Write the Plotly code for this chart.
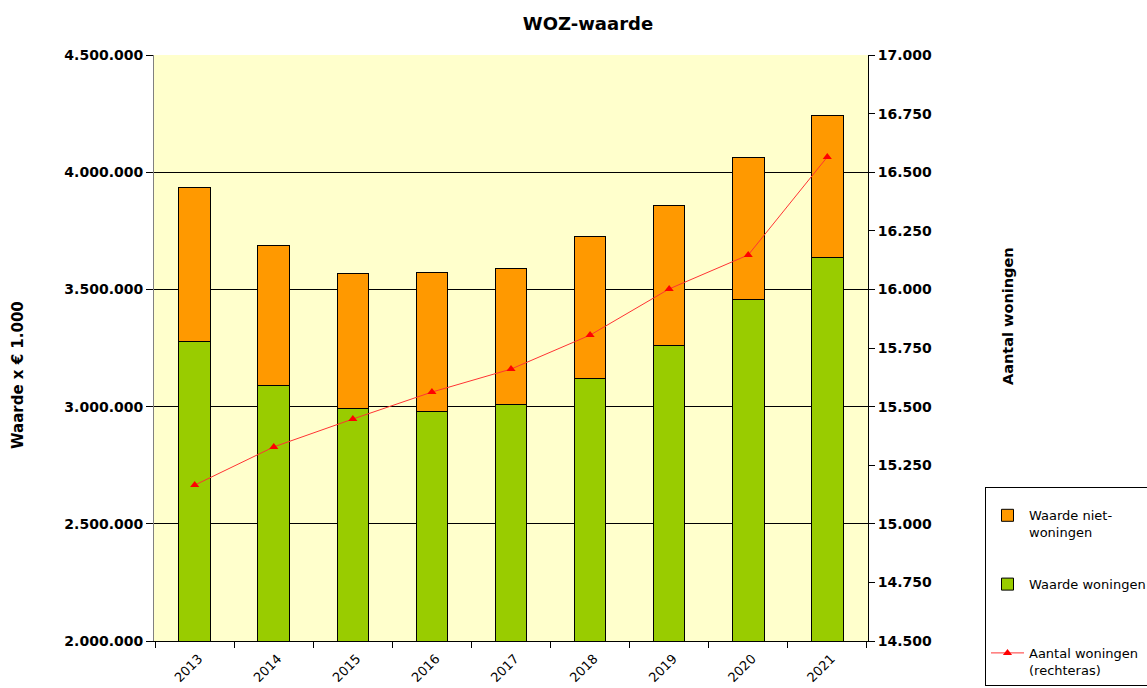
import plotly.graph_objects as go

years = ["2013", "2014", "2015", "2016", "2017", "2018", "2019", "2020", "2021"]
waarde_woningen = [3276000, 3092000, 2994000, 2981000, 3007000, 3122000, 3259000, 3455000, 3638000]
waarde_niet_woningen = [657000, 597000, 572000, 589000, 584000, 602000, 597000, 606000, 606000]
aantal_woningen = [15165, 15328, 15447, 15562, 15660, 15805, 16002, 16147, 16565]

FONT = "DejaVu Sans"

fig = go.Figure()
fig.add_trace(go.Bar(
    x=years, y=waarde_woningen, name="Waarde woningen<br> ",
    marker=dict(color="#99CC00", line=dict(color="#000000", width=1)),
    legendgroup="b", legendrank=2,
))
fig.add_trace(go.Bar(
    x=years, y=waarde_niet_woningen, name="Waarde niet-<br>woningen",
    marker=dict(color="#FF9900", line=dict(color="#000000", width=1)),
    legendgroup="a", legendrank=1,
))
fig.add_trace(go.Scatter(
    x=years, y=aantal_woningen, name="Aantal woningen<br>(rechteras)",
    yaxis="y2", mode="lines+markers",
    line=dict(color="#FF3333", width=1),
    marker=dict(symbol="triangle-up", size=8, color="#FF0000"),
    legendgroup="c", legendrank=3,
))

fig.update_layout(
    template="none",
    width=1147, height=688,
    barmode="stack", bargap=0.6,
    separators=",.",
    paper_bgcolor="#FFFFFF", plot_bgcolor="#FFFFCC",
    margin=dict(l=154, r=279, t=55, b=47, autoexpand=False),
    font=dict(family=FONT, size=13, color="#000000"),
    title=dict(text="<b>WOZ-waarde</b>", x=(588 / 1147), xanchor="center", xref="container",
               y=1 - 24 / 688, yanchor="middle", yref="container",
               font=dict(size=18, family=FONT)),
    xaxis=dict(
        type="category", showgrid=False, showline=True, linecolor="#000000", linewidth=1,
        ticks="outside", tickson="boundaries", ticklen=6, tickcolor="#000000",
        tickangle=-45, tickfont=dict(size=13, family=FONT), mirror=False, automargin=False,
        ticklabelstandoff=4, ticklabelshift=4,
    ),
    yaxis=dict(
        range=[2000000, 4500000], dtick=500000, tickformat=",d",
        showgrid=True, gridcolor="#000000", gridwidth=1,
        showline=True, linecolor="#808080", linewidth=1,
        ticks="outside", ticklen=7, tickcolor="#000000",
        tickfont=dict(size=14, family=FONT, weight="bold"), zeroline=False, automargin=False,
    ),
    yaxis2=dict(
        range=[14500, 17000], dtick=250, tickformat=",d", overlaying="y", side="right",
        showgrid=False, showline=True, linecolor="#000000", linewidth=1,
        ticks="outside", ticklen=6, tickcolor="#000000",
        tickfont=dict(size=14, family=FONT, weight="bold"), zeroline=False, automargin=False,
    ),
    legend=dict(
        x=985 / 1147, xanchor="left", xref="container",
        y=1 - 487 / 688, yanchor="top", yref="container",
        bordercolor="#000000", borderwidth=1, bgcolor="#FFFFFF",
        font=dict(size=13, family=FONT), traceorder="grouped", tracegroupgap=32,
        valign="top", itemwidth=33,
        title=dict(text=" ", font=dict(size=9.5, family=FONT)),
    ),
    annotations=[
        dict(text="<b>Waarde x € 1.000</b>", x=(18 - 154) / 714, y=(641 - 375) / 586,
             xref="paper", yref="paper", textangle=-90, showarrow=False,
             font=dict(size=15, family=FONT), xanchor="center", yanchor="middle"),
        dict(text="<b>Aantal woningen</b>", x=(1008 - 154) / 714, y=(641 - 316) / 586,
             xref="paper", yref="paper", textangle=-90, showarrow=False,
             font=dict(size=14.5, family=FONT), xanchor="center", yanchor="middle"),
    ],
)

fig.write_html("out.html", config={"displayModeBar": False},
               post_script="document.body.style.margin='0';")
